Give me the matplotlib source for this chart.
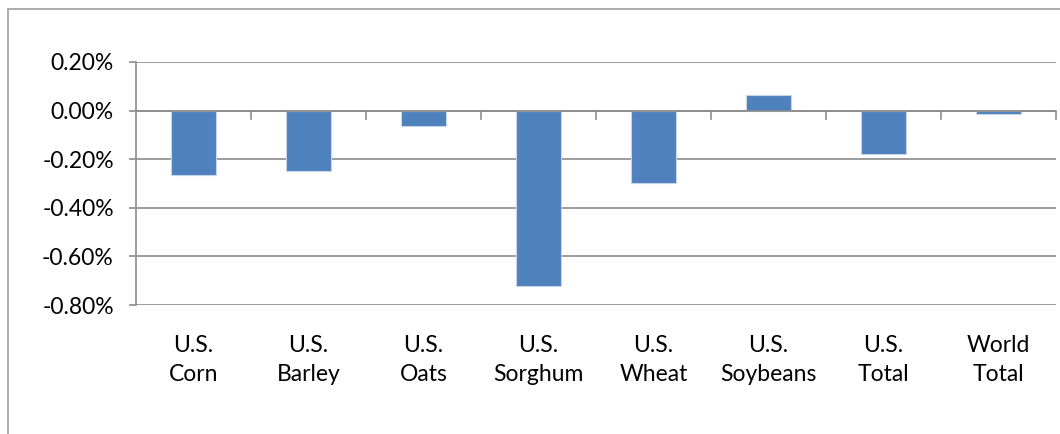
import matplotlib.pyplot as plt
from matplotlib.patches import Rectangle
from matplotlib.ticker import FuncFormatter
import matplotlib.transforms as mtransforms

plt.rcParams['font.family'] = ['Lato', 'DejaVu Sans']

# data (percent)
categories = ['U.S.\nCorn', 'U.S.\nBarley', 'U.S.\nOats', 'U.S.\nSorghum',
              'U.S.\nWheat', 'U.S.\nSoybeans', 'U.S.\nTotal', 'World\nTotal']
values = [-0.265, -0.247, -0.062, -0.72, -0.296, 0.064, -0.18, -0.012]

grid_c = '#8c8c8c'

fig = plt.figure(figsize=(10.6, 4.34), dpi=100)
# chart area border (extends past the right/bottom edge)
fig.patches.append(Rectangle((8 / 1060, -0.1), 1.2, 1 - 9 / 434 + 0.1,
                             transform=fig.transFigure, fill=False,
                             edgecolor='#a0a0a0', linewidth=1.2))

ax = fig.add_axes([136 / 1060, 1 - 305 / 434, 920 / 1060, 243 / 434])
x = list(range(len(categories)))
ax.bar(x, values, width=0.39, color='#4F81BD', edgecolor='#c5d5ea',
       linewidth=0.8, zorder=3)

ax.set_xlim(-0.5, len(categories) - 0.5)
ax.set_ylim(-0.8, 0.2)
ax.set_yticks([0.2, 0.0, -0.2, -0.4, -0.6, -0.8])
ax.yaxis.set_major_formatter(FuncFormatter(lambda v, p: '%.2f%%' % v))
ax.tick_params(axis='y', labelsize=16.5, length=5, width=1.2, color=grid_c,
               pad=11, labelcolor='black')
ax.grid(axis='y', color=grid_c, linewidth=1.2, zorder=0)

for s in ['top', 'right', 'bottom']:
    ax.spines[s].set_visible(False)
ax.spines['left'].set_color(grid_c)
ax.spines['left'].set_linewidth(1.2)

# category axis on the zero line
ax.axhline(0, color=grid_c, linewidth=1.2, zorder=4)
ax.set_xticks([i + 0.5 for i in x])
ax.set_xticklabels([])
ax.tick_params(axis='x', length=0)
for i in x:
    ax.plot([i + 0.5, i + 0.5], [0, -0.034], color=grid_c, linewidth=1.2,
            zorder=4, clip_on=False)

trans = mtransforms.blended_transform_factory(ax.transData, ax.transAxes)
for i, c in zip(x, categories):
    ax.text(i, -0.125, c, transform=trans, ha='center', va='top',
            fontsize=16.5, linespacing=1.42)

fig.savefig('out.png', dpi=100)
